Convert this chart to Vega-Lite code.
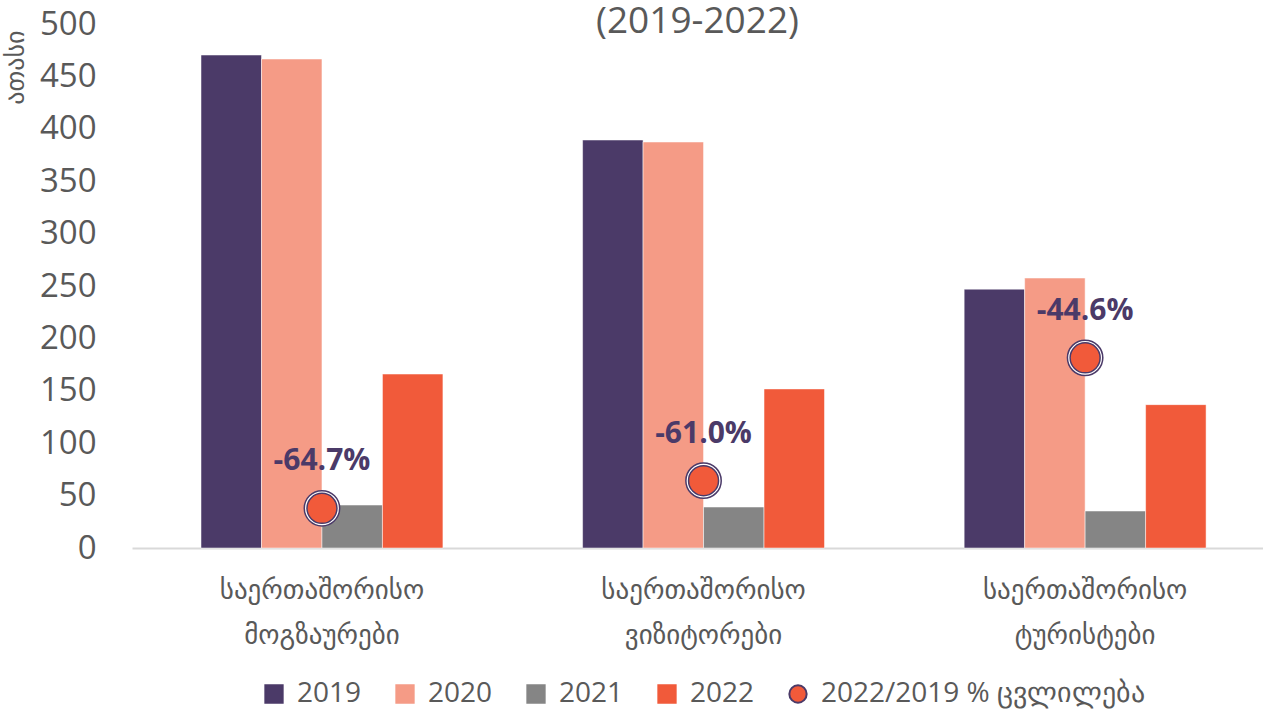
{
  "$schema": "https://vega.github.io/schema/vega-lite/v6.json",
  "width": 1131,
  "height": 524,
  "autosize": {"type": "none"},
  "padding": {"left": 132, "top": 24, "right": 0, "bottom": 166},
  "background": "white",
  "title": {
    "text": "(2019-2022)",
    "font": "Open Sans",
    "fontSize": 37,
    "fontWeight": "normal",
    "color": "#595959",
    "anchor": "middle",
    "baseline": "alphabetic",
    "offset": 0,
    "dy": 62
  },
  "config": {
    "view": {"stroke": null},
    "font": "Open Sans"
  },
  "datasets": {
    "bars": [
      {"cat": "საერთაშორისო მოგზაურები", "series": "2019", "value": 470.4},
      {"cat": "საერთაშორისო მოგზაურები", "series": "2020", "value": 466.6},
      {"cat": "საერთაშორისო მოგზაურები", "series": "2021", "value": 41.0},
      {"cat": "საერთაშორისო მოგზაურები", "series": "2022", "value": 166.0},
      {"cat": "საერთაშორისო ვიზიტორები", "series": "2019", "value": 389.3},
      {"cat": "საერთაშორისო ვიზიტორები", "series": "2020", "value": 387.4},
      {"cat": "საერთაშორისო ვიზიტორები", "series": "2021", "value": 39.1},
      {"cat": "საერთაშორისო ვიზიტორები", "series": "2022", "value": 151.8},
      {"cat": "საერთაშორისო ტურისტები", "series": "2019", "value": 247.0},
      {"cat": "საერთაშორისო ტურისტები", "series": "2020", "value": 257.6},
      {"cat": "საერთაშორისო ტურისტები", "series": "2021", "value": 35.3},
      {"cat": "საერთაშორისო ტურისტები", "series": "2022", "value": 136.8}
    ],
    "points": [
      {"cat": "საერთაშორისო მოგზაურები", "series": "2022/2019 % ცვლილება", "pct": -64.7, "label": "-64.7%"},
      {"cat": "საერთაშორისო ვიზიტორები", "series": "2022/2019 % ცვლილება", "pct": -61.0, "label": "-61.0%"},
      {"cat": "საერთაშორისო ტურისტები", "series": "2022/2019 % ცვლილება", "pct": -44.6, "label": "-44.6%"}
    ]
  },
  "encoding": {
    "x": {
      "field": "cat",
      "type": "nominal",
      "sort": null,
      "scale": {"paddingInner": 0.366, "paddingOuter": 0.165, "align": 0.548},
      "axis": {
        "title": null,
        "labelAngle": 0,
        "labelExpr": "split(datum.label, ' ')",
        "labelFont": "DejaVu Sans",
        "labelFontSize": 27,
        "labelColor": "#595959",
        "labelLineHeight": 45,
        "labelLimit": 400,
        "labelPadding": 42,
        "labelBaseline": "middle",
        "ticks": false,
        "domainColor": "#D9D9D9",
        "domainWidth": 2,
        "grid": false
      }
    }
  },
  "layer": [
    {
      "data": {"name": "bars"},
      "mark": {"type": "bar", "stroke": "white", "strokeWidth": 0.5},
      "encoding": {
        "xOffset": {"field": "series", "type": "nominal", "scale": {"paddingInner": 0, "paddingOuter": 0}},
        "y": {
          "field": "value",
          "type": "quantitative",
          "scale": {"domain": [0, 500], "nice": false},
          "axis": {
            "values": [0, 50, 100, 150, 200, 250, 300, 350, 400, 450, 500],
            "title": "ათასი",
            "titleFont": "DejaVu Sans",
            "titleFontSize": 26,
            "titleFontWeight": "normal",
            "titleColor": "#595959",
            "titleAngle": -90,
            "titleAlign": "right",
            "titleBaseline": "middle",
            "titleX": -117,
            "titleY": 6,
            "labelFont": "Open Sans",
            "labelFontSize": 33,
            "labelColor": "#595959",
            "labelPadding": 36,
            "ticks": false,
            "domain": false,
            "grid": false
          }
        },
        "color": {
          "field": "series",
          "type": "nominal",
          "scale": {
            "domain": ["2019", "2020", "2021", "2022", "2022/2019 % ცვლილება"],
            "range": ["#4B3A68", "#F59B86", "#858585", "#F15A3A", "#F15A3A"]
          },
          "legend": {
            "title": null,
            "orient": "none",
            "direction": "horizontal",
            "legendX": 128,
            "legendY": 656,
            "labelFont": "Open Sans",
            "labelFontSize": 28,
            "labelColor": "#595959",
            "labelOffset": 9,
            "columnPadding": 29,
            "symbolSize": 300,
            "symbolStrokeWidth": 2,
            "labelLimit": 500
          }
        }
      }
    },
    {
      "data": {"name": "points"},
      "mark": {"type": "point", "filled": true, "fill": "white", "stroke": "#4B3A68", "strokeWidth": 1.5, "size": 1250, "shape": "circle", "opacity": 1},
      "encoding": {
        "y": {"field": "pct", "type": "quantitative", "scale": {"domain": [-70, 0], "nice": false}, "axis": null}
      }
    },
    {
      "data": {"name": "points"},
      "mark": {"type": "point", "filled": true, "strokeWidth": 1.5, "size": 900, "opacity": 1},
      "encoding": {
        "y": {"field": "pct", "type": "quantitative", "scale": {"domain": [-70, 0], "nice": false}, "axis": null},
        "color": {"field": "series", "type": "nominal"},
        "shape": {
          "field": "series",
          "type": "nominal",
          "scale": {
            "domain": ["2019", "2020", "2021", "2022", "2022/2019 % ცვლილება"],
            "range": ["square", "square", "square", "square", "circle"]
          }
        },
        "stroke": {
          "field": "series",
          "type": "nominal",
          "scale": {
            "domain": ["2019", "2020", "2021", "2022", "2022/2019 % ცვლილება"],
            "range": ["#4B3A68", "#F59B86", "#858585", "#F15A3A", "#4B3A68"]
          }
        }
      }
    },
    {
      "data": {"name": "points"},
      "mark": {"type": "text", "font": "Open Sans", "fontSize": 30, "fontWeight": "bold", "color": "#4B3A68", "dy": -47, "baseline": "middle"},
      "encoding": {
        "y": {"field": "pct", "type": "quantitative", "scale": {"domain": [-70, 0], "nice": false}, "axis": null},
        "text": {"field": "label"}
      }
    }
  ],
  "resolve": {"scale": {"y": "independent"}}
}
